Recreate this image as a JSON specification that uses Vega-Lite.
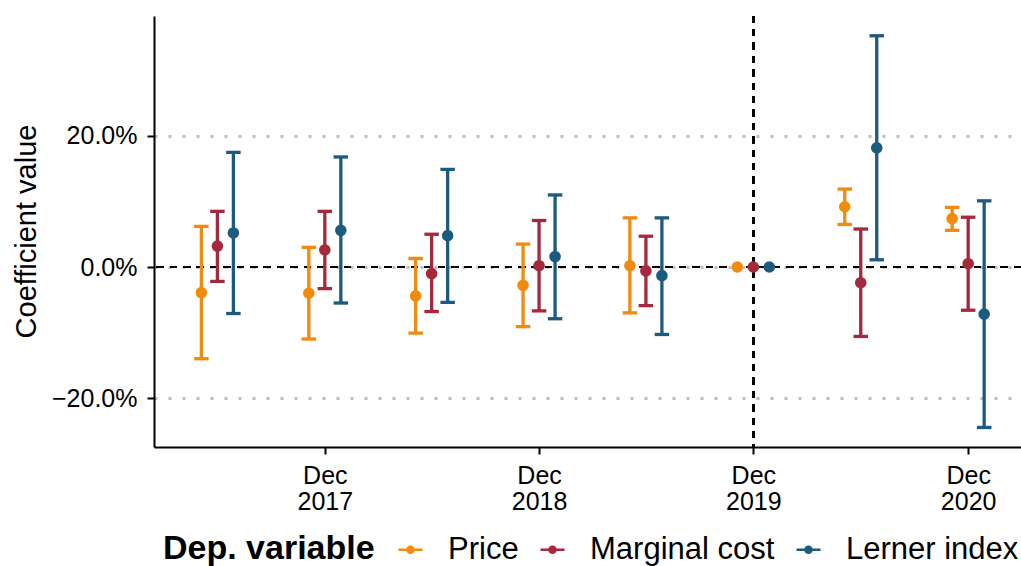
{
  "$schema": "https://vega.github.io/schema/vega-lite/v6.json",
  "width": 867,
  "height": 431,
  "autosize": {"type": "none"},
  "padding": {"left": 154, "top": 16, "right": 0, "bottom": 119},
  "background": "white",
  "config": {
    "view": {"stroke": null},
    "font": "Liberation Sans",
    "axisX": {"domainColor": "black", "domainWidth": 2, "tickColor": "black", "tickWidth": 2, "tickSize": 7, "labelFontSize": 25, "labelColor": "black", "labelPadding": 9, "labelLineHeight": 26, "grid": false, "labelFlush": false, "labelOverlap": false},
    "axisY": {"domainColor": "black", "domainWidth": 2, "tickColor": "black", "tickWidth": 2, "tickSize": 7, "labelFontSize": 25, "labelColor": "black", "labelPadding": 10, "grid": true, "gridColor": "#BEBEBE", "gridDash": [3, 11], "gridWidth": 3, "titleFontSize": 29, "titleFontWeight": "normal", "titleColor": "black", "titleX": -119, "titleY": 215, "titleBaseline": "alphabetic", "titleAngle": -90, "titleAlign": "center"}
  },
  "data": {
    "values": [
      {"date": "2017-06-01", "var": "Price", "est": -0.039, "lo": -0.140, "hi": 0.062},
      {"date": "2017-06-01", "var": "Marginal cost", "est": 0.032, "lo": -0.022, "hi": 0.085},
      {"date": "2017-06-01", "var": "Lerner index", "est": 0.052, "lo": -0.071, "hi": 0.175},
      {"date": "2017-12-01", "var": "Price", "est": -0.040, "lo": -0.110, "hi": 0.030},
      {"date": "2017-12-01", "var": "Marginal cost", "est": 0.026, "lo": -0.033, "hi": 0.085},
      {"date": "2017-12-01", "var": "Lerner index", "est": 0.056, "lo": -0.055, "hi": 0.168},
      {"date": "2018-06-01", "var": "Price", "est": -0.044, "lo": -0.101, "hi": 0.013},
      {"date": "2018-06-01", "var": "Marginal cost", "est": -0.010, "lo": -0.068, "hi": 0.050},
      {"date": "2018-06-01", "var": "Lerner index", "est": 0.048, "lo": -0.054, "hi": 0.149},
      {"date": "2018-12-01", "var": "Price", "est": -0.028, "lo": -0.091, "hi": 0.035},
      {"date": "2018-12-01", "var": "Marginal cost", "est": 0.002, "lo": -0.067, "hi": 0.071},
      {"date": "2018-12-01", "var": "Lerner index", "est": 0.016, "lo": -0.079, "hi": 0.110},
      {"date": "2019-06-01", "var": "Price", "est": 0.002, "lo": -0.070, "hi": 0.075},
      {"date": "2019-06-01", "var": "Marginal cost", "est": -0.006, "lo": -0.059, "hi": 0.047},
      {"date": "2019-06-01", "var": "Lerner index", "est": -0.013, "lo": -0.103, "hi": 0.075},
      {"date": "2019-12-01", "var": "Price", "est": 0.0, "lo": null, "hi": null},
      {"date": "2019-12-01", "var": "Marginal cost", "est": 0.0, "lo": null, "hi": null},
      {"date": "2019-12-01", "var": "Lerner index", "est": 0.0, "lo": null, "hi": null},
      {"date": "2020-06-01", "var": "Price", "est": 0.092, "lo": 0.065, "hi": 0.119},
      {"date": "2020-06-01", "var": "Marginal cost", "est": -0.024, "lo": -0.106, "hi": 0.058},
      {"date": "2020-06-01", "var": "Lerner index", "est": 0.182, "lo": 0.011, "hi": 0.353},
      {"date": "2020-12-01", "var": "Price", "est": 0.074, "lo": 0.056, "hi": 0.091},
      {"date": "2020-12-01", "var": "Marginal cost", "est": 0.005, "lo": -0.066, "hi": 0.076},
      {"date": "2020-12-01", "var": "Lerner index", "est": -0.072, "lo": -0.245, "hi": 0.101}
    ]
  },
  "layer": [
    {
      "mark": {"type": "rule", "color": "black", "strokeWidth": 2, "strokeDash": [6.7, 6.7]},
      "encoding": {
        "y": {"datum": 0, "type": "quantitative", "scale": {"domain": [-0.2748, 0.3832], "nice": false, "zero": false}, "title": "Coefficient value", "axis": {"values": [-0.2, 0, 0.2], "format": ".1%"}}
      }
    },
    {
      "mark": {"type": "rule", "color": "black", "strokeWidth": 2, "strokeDash": [6.7, 6.7]},
      "encoding": {
        "x": {"datum": {"year": 2019, "month": 12, "date": 1, "utc": true}, "type": "temporal", "scale": {"type": "utc", "domain": [{"year": 2017, "month": 2, "date": 13, "utc": true}, {"year": 2021, "month": 3, "date": 1, "utc": true}]}, "title": null, "axis": {"values": [{"year": 2017, "month": 12, "date": 1, "utc": true}, {"year": 2018, "month": 12, "date": 1, "utc": true}, {"year": 2019, "month": 12, "date": 1, "utc": true}, {"year": 2020, "month": 12, "date": 1, "utc": true}], "labelExpr": "['Dec', utcFormat(datum.value, '%Y')]"}}
      }
    },
    {
      "transform": [{"filter": "datum.var === 'Price'"}],
      "encoding": {"x": {"field": "date", "type": "temporal", "title": null}},
      "layer": [
        {"mark": {"type": "rule", "strokeWidth": 3.3, "color": "#F28A0E", "xOffset": -16}, "encoding": {"y": {"field": "lo", "type": "quantitative", "title": "Coefficient value"}, "y2": {"field": "hi"}}},
        {"mark": {"type": "tick", "orient": "horizontal", "size": 14.5, "thickness": 3.3, "opacity": 1, "color": "#F28A0E", "xOffset": -16}, "encoding": {"y": {"field": "lo", "type": "quantitative", "title": "Coefficient value"}}},
        {"mark": {"type": "tick", "orient": "horizontal", "size": 14.5, "thickness": 3.3, "opacity": 1, "color": "#F28A0E", "xOffset": -16}, "encoding": {"y": {"field": "hi", "type": "quantitative", "title": "Coefficient value"}}},
        {"mark": {"type": "point", "filled": true, "size": 135, "opacity": 1, "xOffset": -16}, "encoding": {"y": {"field": "est", "type": "quantitative", "title": "Coefficient value"}, "color": {"field": "var", "type": "nominal", "scale": {"domain": ["Price", "Marginal cost", "Lerner index"], "range": ["#F28A0E", "#A4293C", "#1D5A7F"]}, "legend": {"orient": "none", "legendX": 9, "legendY": 518, "direction": "horizontal", "title": "Dep. variable", "titleOrient": "left", "titleFontSize": 34, "titleFontWeight": "bold", "titleColor": "black", "titlePadding": 20, "titleBaseline": "middle", "titleLimit": 1000, "labelLimit": 1000, "labelFontSize": 31, "labelColor": "black", "labelOffset": 22, "columnPadding": 18, "symbolType": "M-1,-0.1H1V0.1H-1Z M0.36,0A0.36,0.36,0,1,1,-0.36,0A0.36,0.36,0,1,1,0.36,0Z", "symbolSize": 576, "symbolStrokeWidth": 0, "symbolOpacity": 1}}}}
      ]
    },
    {
      "transform": [{"filter": "datum.var === 'Marginal cost'"}],
      "encoding": {"x": {"field": "date", "type": "temporal", "title": null}},
      "layer": [
        {"mark": {"type": "rule", "strokeWidth": 3.3, "color": "#A4293C", "xOffset": 0}, "encoding": {"y": {"field": "lo", "type": "quantitative", "title": "Coefficient value"}, "y2": {"field": "hi"}}},
        {"mark": {"type": "tick", "orient": "horizontal", "size": 14.5, "thickness": 3.3, "opacity": 1, "color": "#A4293C", "xOffset": 0}, "encoding": {"y": {"field": "lo", "type": "quantitative", "title": "Coefficient value"}}},
        {"mark": {"type": "tick", "orient": "horizontal", "size": 14.5, "thickness": 3.3, "opacity": 1, "color": "#A4293C", "xOffset": 0}, "encoding": {"y": {"field": "hi", "type": "quantitative", "title": "Coefficient value"}}},
        {"mark": {"type": "point", "filled": true, "size": 135, "opacity": 1, "xOffset": 0}, "encoding": {"y": {"field": "est", "type": "quantitative", "title": "Coefficient value"}, "color": {"field": "var", "type": "nominal"}}}
      ]
    },
    {
      "transform": [{"filter": "datum.var === 'Lerner index'"}],
      "encoding": {"x": {"field": "date", "type": "temporal", "title": null}},
      "layer": [
        {"mark": {"type": "rule", "strokeWidth": 3.3, "color": "#1D5A7F", "xOffset": 16}, "encoding": {"y": {"field": "lo", "type": "quantitative", "title": "Coefficient value"}, "y2": {"field": "hi"}}},
        {"mark": {"type": "tick", "orient": "horizontal", "size": 14.5, "thickness": 3.3, "opacity": 1, "color": "#1D5A7F", "xOffset": 16}, "encoding": {"y": {"field": "lo", "type": "quantitative", "title": "Coefficient value"}}},
        {"mark": {"type": "tick", "orient": "horizontal", "size": 14.5, "thickness": 3.3, "opacity": 1, "color": "#1D5A7F", "xOffset": 16}, "encoding": {"y": {"field": "hi", "type": "quantitative", "title": "Coefficient value"}}},
        {"mark": {"type": "point", "filled": true, "size": 135, "opacity": 1, "xOffset": 16}, "encoding": {"y": {"field": "est", "type": "quantitative", "title": "Coefficient value"}, "color": {"field": "var", "type": "nominal"}}}
      ]
    }
  ]
}
